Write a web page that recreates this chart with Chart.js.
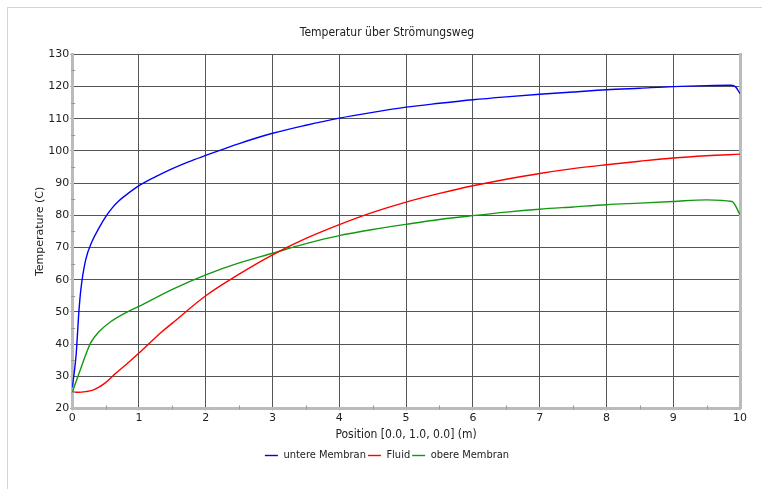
<!DOCTYPE html>
<html>
<head>
<meta charset="utf-8">
<script src="https://cdn.jsdelivr.net/npm/chart.js@4"></script>
<style>
  html, body { margin: 0; padding: 0; background: #fff; overflow: hidden; }
  #frame { position: absolute; left: 7px; top: 7px; width: 755px; height: 482px;
           border-top: 1px solid #d4d4d4; border-left: 1px solid #d4d4d4; }
  #wrap { position: absolute; left: 8px; top: 8px; width: 764px; height: 481px; }
</style>
</head>
<body>
<div id="frame"></div>
<div id="wrap"><canvas id="tempChart"></canvas></div>
<script>
// Temperaturverlauf entlang des Strömungswegs
const seriesNames = ['untere Membran', 'Fluid', 'obere Membran'];
const seriesColors = ['#0000ff', '#ff0000', '#119911'];

const posUntere = [0, 0.03, 0.06, 0.1, 0.13, 0.2, 0.3, 0.4, 0.5, 0.6, 0.7, 0.8, 1, 1.25, 1.5, 1.75, 2, 2.5, 3, 3.5, 4, 4.5, 5, 5.5, 6, 6.5, 7, 7.5, 8, 8.5, 9, 9.5, 9.85, 9.93, 10];
const tempUntere = [26.5, 31, 37, 50, 57, 66, 72, 76, 79.5, 82.3, 84.5, 86.2, 89.2, 92, 94.5, 96.7, 98.6, 102.3, 105.5, 108, 110.2, 112, 113.6, 114.8, 115.9, 116.8, 117.6, 118.3, 119, 119.5, 120, 120.3, 120.4, 120, 117.8];

const posFluid = [0, 0.1, 0.2, 0.3, 0.4, 0.5, 0.63, 0.8, 1, 1.33, 1.5, 2, 2.5, 3, 3.5, 4, 4.5, 5, 5.5, 6, 6.5, 7, 7.5, 8, 8.5, 9, 9.5, 10];
const tempFluid = [25, 25, 25.2, 25.6, 26.6, 28, 30.5, 33.5, 37.2, 43.6, 46.5, 55, 61.7, 67.7, 72.8, 77.1, 80.9, 84.1, 86.8, 89.2, 91.2, 93, 94.5, 95.7, 96.8, 97.8, 98.5, 99];

const posObere = [0, 0.13, 0.2, 0.28, 0.4, 0.58, 0.8, 1, 1.5, 2, 2.5, 3, 3.5, 4, 4.5, 5, 5.5, 6, 6.5, 7, 7.5, 8, 8.5, 9, 9.5, 9.88, 10];
const tempObere = [25, 32.5, 36.5, 40.5, 43.8, 47, 49.7, 51.7, 57, 61.5, 65.2, 68.2, 71.2, 73.7, 75.6, 77.2, 78.7, 79.9, 81, 81.9, 82.6, 83.3, 83.8, 84.3, 84.8, 84.3, 80.2];

const xMin = 0, xMax = 10, xStep = 1;
const yMin = 20, yMax = 130, yStep = 10;

function toPoints(xs, ys) {
    return xs.map((x, i) => ({ x: x, y: ys[i] }));
}

// kleine Zwischenstriche auf den Achsen
const minorTicks = {
    id: 'minorTicks',
    afterDraw(chart) {
        const ctx = chart.ctx;
        const xs = chart.scales.x, ys = chart.scales.y;
        ctx.save();
        ctx.strokeStyle = '#999';
        ctx.lineWidth = 1;
        ctx.beginPath();
        for (let v = xMin + xStep / 2; v < xMax; v += xStep) {
            const px = Math.round(xs.getPixelForValue(v)) + 0.5;
            ctx.moveTo(px, ys.bottom - 3);
            ctx.lineTo(px, ys.bottom + 1);
        }
        for (let v = yMin + yStep / 2; v < yMax; v += yStep) {
            const py = Math.round(ys.getPixelForValue(v)) + 0.5;
            ctx.moveTo(xs.left - 1, py);
            ctx.lineTo(xs.left + 3, py);
        }
        ctx.stroke();
        ctx.restore();
    }
};

const ctx = document.getElementById('tempChart').getContext('2d');
const chart = new Chart(ctx, {
    type: 'line',
    data: {
        datasets: [
            { label: seriesNames[0], data: toPoints(posUntere, tempUntere) },
            { label: seriesNames[1], data: toPoints(posFluid, tempFluid) },
            { label: seriesNames[2], data: toPoints(posObere, tempObere) }
        ].map((d, i) => Object.assign(d, {
            borderColor: seriesColors[i],
            backgroundColor: seriesColors[i],
            borderWidth: 1.4,
            pointRadius: 0,
            fill: false,
            cubicInterpolationMode: 'monotone'
        }))
    },
    options: {
        responsive: true,
        maintainAspectRatio: false,
        animation: false,
        layout: { padding: { top: 4, left: 26, right: 32, bottom: 18 } },
        plugins: {
            title: {
                display: true,
                text: 'Temperatur über Strömungsweg',
                color: '#222',
                font: { family: 'DejaVu Sans Condensed', size: 12, weight: 'normal' },
                padding: { top: 14, bottom: 14 }
            },
            legend: {
                position: 'bottom',
                labels: {
                    usePointStyle: true,
                    pointStyle: 'line',
                    pointStyleWidth: 13,
                    color: '#222',
                    padding: 2,
                    font: { family: 'DejaVu Sans Condensed', size: 11 }
                }
            },
            tooltip: { enabled: false }
        },
        scales: {
            x: {
                type: 'linear',
                min: xMin,
                max: xMax,
                ticks: { stepSize: xStep, color: '#222', padding: 1,
                         font: { family: 'DejaVu Sans', size: 11 } },
                grid: { color: '#555', lineWidth: 1, tickLength: 2, tickColor: '#999' },
                border: { color: '#bbb', width: 3 },
                title: { display: true, text: 'Position [0.0, 1.0, 0.0] (m)', color: '#222',
                         padding: { top: 2, bottom: 6 },
                         font: { family: 'DejaVu Sans Condensed', size: 12 } }
            },
            y: {
                type: 'linear',
                min: yMin,
                max: yMax,
                ticks: { stepSize: yStep, color: '#222', padding: 1,
                         font: { family: 'DejaVu Sans', size: 11 } },
                grid: { color: '#555', lineWidth: 1, tickLength: 2, tickColor: '#999' },
                border: { color: '#bbb', width: 3 },
                title: { display: true, text: 'Temperature (C)', color: '#222',
                         padding: { top: 0, bottom: 0 },
                         font: { family: 'DejaVu Sans', size: 11 } }
            },
            yRight: {
                type: 'linear',
                position: 'right',
                min: yMin,
                max: yMax,
                ticks: { display: false },
                grid: { drawOnChartArea: false, drawTicks: false },
                border: { color: '#bbb', width: 3 }
            }
        }
    },
    plugins: [minorTicks]
});
</script>
</body>
</html>
